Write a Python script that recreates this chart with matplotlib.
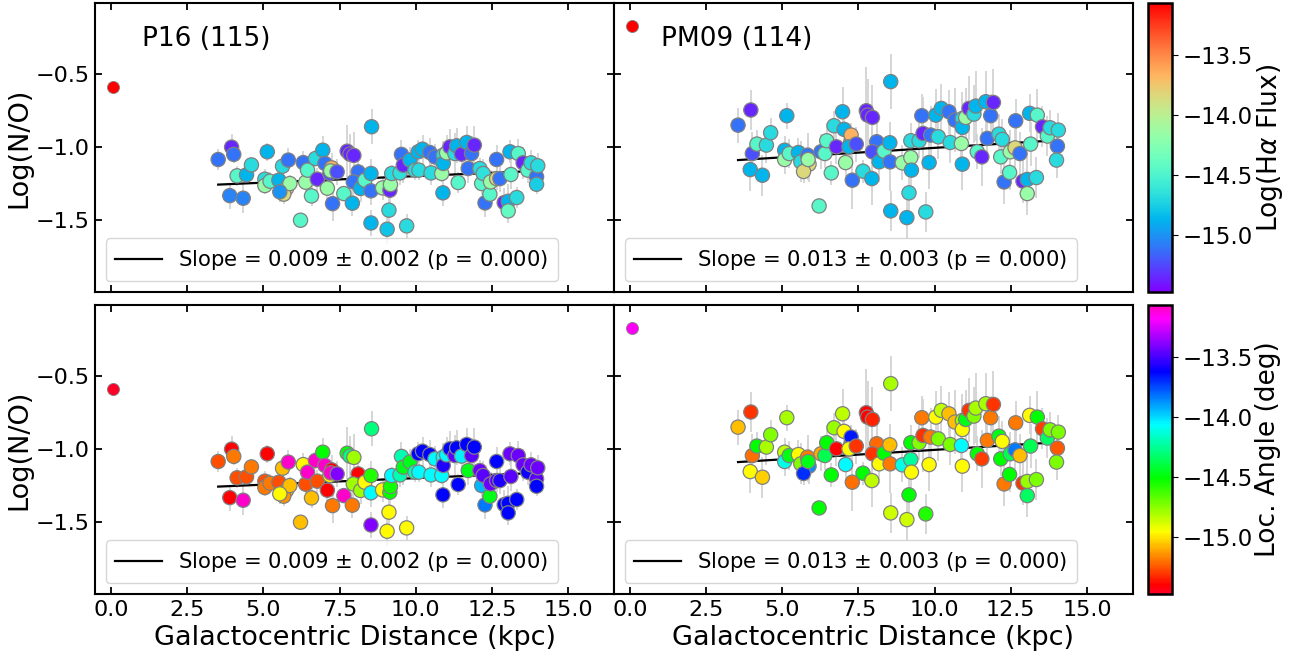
import numpy as np
import matplotlib
matplotlib.use("Agg")
import matplotlib.pyplot as plt
from matplotlib.colors import Normalize
from matplotlib.cm import ScalarMappable

# ---------------- data ----------------
# nucleus (central) point
center_x = 0.08
center_y_p16 = -0.59
center_y_pm09 = -0.167
center_flux = -13.0
center_angle_p16 = 0.0
center_angle_pm09 = 345.0

# P16 calibration
x_p16 = [3.52, 3.96, 4.03, 4.14, 3.90, 4.34, 4.45, 4.61, 5.13, 5.05, 5.05, 5.22, 5.51, 5.63, 5.82,
         5.76, 5.67, 5.87, 5.54, 6.22, 6.31, 6.39, 6.45, 6.58, 6.71, 6.77, 6.95, 7.02, 7.10, 7.18,
         7.24, 7.21, 7.27, 7.42, 7.64, 7.75, 7.84, 7.97, 7.92, 8.11, 7.95, 8.19, 8.33, 8.55, 8.53,
         8.53, 8.53, 8.91, 9.06, 9.12, 9.15, 9.17, 9.21, 9.48, 9.53, 9.59, 9.70, 9.81, 9.97, 10.08,
         10.10, 10.22, 10.46, 10.50, 10.63, 10.85, 10.90, 10.90, 10.89, 11.01, 11.12, 11.28, 11.34,
         11.39, 11.50, 11.67, 11.72, 11.83, 11.92, 12.10, 12.16, 12.21, 12.27, 12.43, 12.45, 12.65,
         12.65, 12.76, 12.90, 13.03, 13.03, 13.09, 13.12, 13.31, 13.36, 13.52, 13.67, 13.78, 13.96,
         14.00, 13.96]
y_p16 = [-1.085, -1.000, -1.050, -1.197, -1.333, -1.351, -1.190, -1.122, -1.032, -1.220, -1.264,
         -1.234, -1.227, -1.131, -1.089, -1.284, -1.323, -1.250, -1.307, -1.502, -1.106, -1.241,
         -1.158, -1.335, -1.078, -1.220, -1.021, -1.112, -1.282, -1.181, -1.142, -1.163, -1.388,
         -1.170, -1.319, -1.028, -1.048, -1.057, -1.385, -1.170, -1.239, -1.284, -1.227, -0.860,
         -1.181, -1.300, -1.521, -1.280, -1.564, -1.433, -1.296, -1.257, -1.181, -1.177, -1.050,
         -1.124, -1.541, -1.089, -1.158, -1.032, -1.158, -1.014, -1.037, -1.177, -1.067, -1.181,
         -1.055, -1.112, -1.314, -1.039, -0.998, -1.044, -0.991, -1.243, -1.048, -0.968, -1.147,
         -1.044, -0.986, -1.147, -1.250, -1.181, -1.383, -1.323, -1.239, -1.085, -1.216, -1.216,
         -1.381, -1.372, -1.438, -1.032, -1.188, -1.346, -1.044, -1.108, -1.158, -1.108, -1.204,
         -1.128, -1.255]
yerr_p16 = [0.07, 0.09, 0.06, 0.07, 0.09, 0.10, 0.06, 0.05, 0.06, 0.07, 0.06, 0.06, 0.08, 0.06,
            0.08, 0.06, 0.07, 0.06, 0.07, 0.04, 0.08, 0.07, 0.08, 0.07, 0.06, 0.08, 0.10, 0.09,
            0.08, 0.09, 0.10, 0.06, 0.12, 0.09, 0.05, 0.18, 0.14, 0.16, 0.09, 0.10, 0.10, 0.09,
            0.07, 0.12, 0.10, 0.10, 0.09, 0.08, 0.10, 0.09, 0.10, 0.08, 0.06, 0.08, 0.10, 0.12,
            0.08, 0.09, 0.07, 0.08, 0.07, 0.10, 0.10, 0.08, 0.09, 0.06, 0.10, 0.12, 0.09, 0.12,
            0.12, 0.14, 0.12, 0.07, 0.12, 0.11, 0.10, 0.12, 0.13, 0.07, 0.08, 0.10, 0.10, 0.07,
            0.08, 0.10, 0.08, 0.09, 0.10, 0.12, 0.08, 0.08, 0.10, 0.07, 0.10, 0.11, 0.09, 0.09,
            0.08, 0.09, 0.07]
flux_p16 = [-15.11, -15.35, -15.11, -14.46, -15.05, -15.05, -14.87, -14.68, -14.87, -14.68, -14.15,
            -14.46, -14.87, -14.68, -15.11, -13.84, -13.84, -14.15, -15.00, -14.46, -15.11, -14.15,
            -14.46, -14.46, -14.68, -15.35, -14.87, -15.11, -14.15, -15.22, -13.67, -14.15, -15.11,
            -15.22, -14.46, -15.35, -15.35, -15.35, -14.87, -15.11, -15.11, -14.87, -14.46, -14.87,
            -14.87, -15.11, -14.87, -14.15, -14.80, -14.68, -15.35, -14.15, -14.68, -14.65, -15.11,
            -15.35, -14.68, -14.87, -14.68, -14.87, -14.68, -14.87, -15.11, -14.68, -15.11, -14.15,
            -14.68, -14.87, -14.87, -14.15, -15.35, -14.68, -14.87, -14.46, -15.35, -14.87, -15.11,
            -15.11, -15.35, -14.68, -14.46, -14.65, -15.11, -14.46, -14.15, -15.11, -13.84, -15.11,
            -15.35, -14.87, -14.40, -14.87, -14.46, -14.68, -14.46, -15.35, -14.46, -14.68, -15.11,
            -14.68, -14.75]
angle_p16 = [31, 11, 43, 31, 11, 356, 31, 43, 11, 31, 43, 43, 31, 61, 356, 61, 50, 61, 77, 61,
             77, 31, 356, 61, 356, 31, 144, 356, 11, 77, 11, 356, 43, 310, 356, 144, 176, 104,
             43, 11, 104, 104, 77, 176, 135, 211, 310, 77, 77, 77, 144, 140, 211, 190, 190, 150,
             77, 150, 190, 277, 211, 277, 277, 211, 211, 211, 211, 285, 277, 211, 277, 300, 277,
             277, 215, 277, 150, 300, 277, 305, 230, 300, 245, 150, 305, 277, 300, 285, 277, 277,
             277, 305, 300, 277, 305, 305, 280, 305, 300, 305, 277]

# PM09 calibration
x_pm09 = [3.55, 3.97, 4.02, 4.17, 3.95, 4.35, 4.48, 4.62, 5.15, 5.08, 5.08, 5.23, 5.53, 5.61, 5.83,
          5.88, 5.70, 5.85, 6.21, 6.27, 6.40, 6.46, 6.61, 6.70, 6.78, 6.98, 7.03, 7.08, 7.25, 7.26,
          7.19, 7.30, 7.43, 7.65, 7.76, 7.80, 7.96, 7.94, 8.10, 7.96, 8.18, 8.34, 8.56, 8.53, 8.54,
          8.56, 8.94, 9.09, 9.16, 9.22, 9.24, 9.22, 9.49, 9.58, 9.62, 9.71, 9.82, 9.87, 10.04, 10.12,
          10.22, 10.47, 10.51, 10.67, 10.91, 10.91, 10.88, 10.91, 11.02, 11.13, 11.29, 11.35, 11.40,
          11.55, 11.68, 11.84, 11.73, 11.93, 12.11, 12.17, 12.22, 12.28, 12.46, 12.48, 12.66, 12.64,
          12.80, 12.90, 13.04, 13.04, 13.12, 13.15, 13.34, 13.37, 13.54, 13.70, 13.79, 14.03, 14.06,
          14.00]
y_pm09 = [-0.849, -0.745, -1.044, -0.979, -1.154, -1.193, -0.986, -0.901, -0.784, -1.021, -1.085,
          -1.044, -1.037, -1.101, -1.055, -1.117, -1.167, -1.085, -1.404, -1.032, -1.044, -0.956,
          -1.177, -0.853, -0.998, -0.757, -0.878, -1.106, -0.968, -0.917, -0.998, -1.227, -0.979,
          -1.165, -0.750, -0.780, -0.796, -1.216, -0.963, -1.032, -1.101, -1.028, -0.550, -0.970,
          -1.101, -1.438, -1.108, -1.484, -1.314, -1.071, -1.158, -0.956, -0.956, -0.784, -0.906,
          -1.445, -1.106, -0.917, -0.780, -0.929, -0.734, -0.757, -0.968, -0.814, -0.803, -0.865,
          -0.975, -1.117, -0.796, -0.734, -0.773, -0.718, -1.032, -1.067, -0.688, -0.784, -0.940,
          -0.693, -0.911, -1.067, -0.947, -1.239, -1.174, -1.032, -0.819, -1.005, -1.044, -1.234,
          -1.222, -1.319, -0.768, -0.979, -1.209, -0.780, -0.860, -0.924, -0.867, -0.993, -0.883,
          -1.089]
yerr_pm09 = [0.12, 0.14, 0.15, 0.10, 0.15, 0.14, 0.12, 0.10, 0.09, 0.10, 0.10, 0.10, 0.10, 0.14,
             0.15, 0.12, 0.08, 0.14, 0.05, 0.12, 0.10, 0.12, 0.08, 0.10, 0.12, 0.17, 0.14, 0.12,
             0.10, 0.08, 0.10, 0.20, 0.12, 0.08, 0.30, 0.25, 0.22, 0.18, 0.15, 0.17, 0.14, 0.10,
             0.19, 0.14, 0.20, 0.14, 0.12, 0.14, 0.12, 0.14, 0.15, 0.12, 0.12, 0.15, 0.25, 0.14,
             0.18, 0.20, 0.18, 0.15, 0.17, 0.15, 0.14, 0.22, 0.18, 0.20, 0.17, 0.18, 0.20, 0.22,
             0.20, 0.24, 0.12, 0.20, 0.21, 0.15, 0.14, 0.23, 0.14, 0.12, 0.14, 0.15, 0.12, 0.15,
             0.15, 0.13, 0.15, 0.15, 0.18, 0.15, 0.13, 0.15, 0.14, 0.18, 0.14, 0.14, 0.12, 0.12,
             0.12, 0.12]
flux_pm09 = [-15.11, -15.35, -15.22, -14.46, -14.87, -14.87, -14.68, -14.68, -14.87, -14.87, -14.15,
             -14.46, -14.87, -14.68, -15.11, -13.84, -13.84, -14.15, -14.46, -15.11, -14.46, -14.46,
             -14.46, -14.68, -15.35, -14.87, -14.87, -14.15, -14.46, -13.67, -14.87, -15.11, -15.22,
             -14.68, -15.35, -15.35, -15.35, -14.87, -15.11, -15.22, -14.87, -14.46, -14.87, -14.87,
             -15.11, -14.87, -14.15, -14.87, -14.68, -14.15, -14.87, -14.68, -14.68, -15.11, -15.35,
             -14.68, -14.87, -15.11, -14.87, -14.68, -14.87, -15.11, -14.68, -15.11, -14.68, -14.87,
             -14.15, -14.87, -14.15, -15.35, -14.68, -14.87, -14.46, -15.35, -14.87, -15.11, -15.11,
             -15.35, -14.68, -14.46, -14.68, -15.11, -14.46, -14.15, -15.11, -13.84, -15.11, -15.35,
             -14.87, -14.15, -14.87, -14.46, -14.68, -14.46, -15.35, -14.46, -14.68, -15.11, -14.68,
             -14.68]
angle_pm09 = [61, 25, 40, 144, 77, 65, 100, 110, 100, 95, 205, 150, 77, 110, 43, 240, 265, 150,
              144, 55, 165, 144, 144, 105, 11, 95, 77, 211, 170, 270, 77, 40, 25, 144, 11, 11,
              20, 95, 38, 25, 77, 144, 100, 61, 43, 90, 205, 90, 144, 185, 77, 144, 110, 43, 25,
              135, 77, 43, 77, 112, 95, 61, 112, 61, 105, 77, 211, 77, 150, 25, 110, 100, 144, 28,
              100, 43, 43, 25, 148, 144, 77, 43, 144, 165, 43, 245, 61, 25, 105, 170, 77, 165, 112,
              144, 28, 170, 112, 35, 112, 112]

# linear fits
fit_p16 = (0.009, -1.289)
fit_pm09 = (0.013, -1.135)
label_p16 = "Slope = 0.009 $\\pm$ 0.002 (p = 0.000)"
label_pm09 = "Slope = 0.013 $\\pm$ 0.003 (p = 0.000)"
title_p16 = "P16 (115)"
title_pm09 = "PM09 (114)"

flux_lim = (-15.47, -13.07)
angle_lim = (0.0, 360.0)
cbar_ticks = [-13.5, -14.0, -14.5, -15.0]

# ---------------- figure ----------------
W, H = 1293, 657
fig = plt.figure(figsize=(W / 100, H / 100), dpi=100)


def fax(l, t, r, b):
    return fig.add_axes([l / W, 1 - b / H, (r - l) / W, (b - t) / H])


ax_tl = fax(95, 3, 614, 292)
ax_tr = fax(614, 3, 1132.7, 292)
ax_bl = fax(95, 305, 614, 594)
ax_br = fax(614, 305, 1132.7, 594)
cax_t = fax(1147.7, 3, 1171.7, 292)
cax_b = fax(1147.7, 305, 1171.7, 594)

flux_norm = Normalize(*flux_lim)
angle_norm = Normalize(*angle_lim)


def panel(ax, x, y, yerr, c, cmap, norm, cx, cy, cc, fit, label, title=None):
    ax.errorbar(x, y, yerr=yerr, fmt="none", ecolor="#d3d3d3", elinewidth=1.3, zorder=1)
    ax.scatter(x, y, c=c, cmap=cmap, norm=norm, s=105, edgecolors="gray",
               linewidths=0.9, zorder=3)
    ax.scatter([cx], [cy], c=[cc], cmap=cmap, norm=norm, s=75, edgecolors="gray",
               linewidths=0.6, zorder=3)
    xs = np.sort(np.asarray(x))
    ax.plot(xs, fit[1] + fit[0] * xs, color="black", lw=1.6, zorder=2, label=label)
    ax.legend(loc="lower left", fontsize=15.2, handlelength=2.2, borderpad=0.45,
              framealpha=0.8)
    if title:
        ax.text(0.09, 0.875, title, transform=ax.transAxes, fontsize=19,
                ha="left", va="center")
    ax.set_xlim(-0.52, 16.5)
    ax.set_ylim(-1.995, -0.01)
    ax.set_xticks([0, 2.5, 5, 7.5, 10, 12.5, 15])
    ax.set_yticks([-0.5, -1.0, -1.5])
    ax.tick_params(direction="in", top=True, right=True, length=5, width=1.3,
                   labelsize=16, pad=4)
    for sp in ax.spines.values():
        sp.set_linewidth(1.5)


panel(ax_tl, x_p16, y_p16, yerr_p16, flux_p16, "rainbow", flux_norm,
      center_x, center_y_p16, center_flux, fit_p16, label_p16, title_p16)
panel(ax_tr, x_pm09, y_pm09, yerr_pm09, flux_pm09, "rainbow", flux_norm,
      center_x, center_y_pm09, center_flux, fit_pm09, label_pm09, title_pm09)
panel(ax_bl, x_p16, y_p16, yerr_p16, angle_p16, "gist_rainbow", angle_norm,
      center_x, center_y_p16, center_angle_p16, fit_p16, label_p16)
panel(ax_br, x_pm09, y_pm09, yerr_pm09, angle_pm09, "gist_rainbow", angle_norm,
      center_x, center_y_pm09, center_angle_pm09, fit_pm09, label_pm09)

for ax in (ax_tl, ax_tr):
    ax.tick_params(labelbottom=False)
for ax in (ax_tr, ax_br):
    ax.tick_params(labelleft=False)
for ax in (ax_tl, ax_bl):
    ax.set_ylabel("Log(N/O)", fontsize=19.5, labelpad=2)
for ax in (ax_bl, ax_br):
    ax.set_xlabel("Galactocentric Distance (kpc)", fontsize=19.5, labelpad=4)

for cax, cmap, lab in ((cax_t, "rainbow", "Log(H$\\alpha$ Flux)"),
                       (cax_b, "gist_rainbow", "Loc. Angle (deg)")):
    cb = fig.colorbar(ScalarMappable(norm=flux_norm, cmap=cmap), cax=cax)
    cb.set_ticks(cbar_ticks)
    cb.ax.tick_params(labelsize=16.5, length=4)
    cb.outline.set_linewidth(1.8)
    cb.set_label(lab, fontsize=19, labelpad=2)

fig.savefig("out.png", dpi=100)
